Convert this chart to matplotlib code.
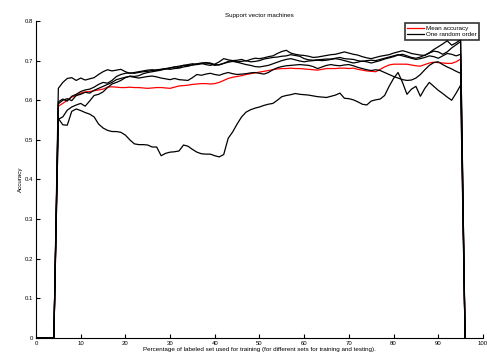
import numpy as np
import matplotlib
matplotlib.use("Agg")
import matplotlib.pyplot as plt

# Percentage of the labeled set used for training (evaluated points)
pct = list(range(5, 96))
# Points before/after the evaluated range where accuracy is recorded as 0
pct_lead = [0, 1, 2, 3, 4]
pct_tail = [96]

mean_acc = [
    0.585, 0.592, 0.600, 0.608, 0.612, 0.618, 0.621, 0.622, 0.624, 0.626,
    0.628, 0.633, 0.634, 0.633, 0.632, 0.632, 0.633, 0.632, 0.632, 0.631,
    0.630, 0.631, 0.632, 0.632, 0.631, 0.630, 0.633, 0.636, 0.637, 0.638,
    0.640, 0.641, 0.642, 0.642, 0.641, 0.642, 0.645, 0.650, 0.655, 0.658,
    0.660, 0.662, 0.665, 0.667, 0.669, 0.671, 0.673, 0.675, 0.677, 0.679,
    0.680, 0.680, 0.681, 0.680, 0.680, 0.679, 0.678, 0.677, 0.676, 0.678,
    0.680, 0.680, 0.680, 0.681, 0.681, 0.680, 0.681, 0.678, 0.676, 0.674,
    0.673, 0.672, 0.678, 0.684, 0.689, 0.691, 0.691, 0.691, 0.691, 0.689,
    0.687, 0.686, 0.690, 0.694, 0.696, 0.695, 0.694, 0.693, 0.693, 0.697,
    0.704,
]

order_a = [
    0.630, 0.645, 0.655, 0.657, 0.650, 0.656, 0.651, 0.654, 0.657, 0.665,
    0.672, 0.677, 0.674, 0.676, 0.678, 0.672, 0.668, 0.670, 0.672, 0.674,
    0.676, 0.677, 0.675, 0.678, 0.680, 0.681, 0.684, 0.683, 0.688, 0.690,
    0.692, 0.691, 0.693, 0.690, 0.688, 0.691, 0.697, 0.705, 0.702, 0.700,
    0.701, 0.703, 0.699, 0.703, 0.706, 0.705, 0.707, 0.710, 0.712, 0.718,
    0.723, 0.726, 0.719, 0.716, 0.714, 0.713, 0.711, 0.708, 0.709, 0.711,
    0.713, 0.715, 0.716, 0.719, 0.722, 0.719, 0.716, 0.714, 0.710, 0.707,
    0.705, 0.708, 0.711, 0.713, 0.715, 0.719, 0.722, 0.725, 0.722, 0.718,
    0.716, 0.714, 0.713, 0.720, 0.728, 0.735, 0.742, 0.750, 0.739, 0.745,
    0.753,
]

order_b = [
    0.596, 0.603, 0.598, 0.610, 0.615, 0.622, 0.626, 0.628, 0.633, 0.640,
    0.645, 0.643, 0.650, 0.660, 0.665, 0.668, 0.669, 0.668, 0.670, 0.672,
    0.673, 0.675, 0.677, 0.678, 0.679, 0.678, 0.680, 0.681, 0.684, 0.686,
    0.689, 0.690, 0.692, 0.694, 0.692, 0.688, 0.690, 0.693, 0.698, 0.700,
    0.697, 0.698, 0.700, 0.697, 0.698, 0.700, 0.704, 0.706, 0.708, 0.709,
    0.711, 0.712, 0.715, 0.713, 0.711, 0.705, 0.702, 0.701, 0.702, 0.703,
    0.704, 0.704, 0.706, 0.708, 0.705, 0.704, 0.703, 0.700, 0.698, 0.700,
    0.701, 0.700, 0.703, 0.706, 0.709, 0.712, 0.715, 0.712, 0.709, 0.706,
    0.703, 0.705, 0.708, 0.712, 0.710, 0.706, 0.712, 0.718, 0.716, 0.712,
    0.716,
]

order_c = [
    0.552, 0.558, 0.575, 0.583, 0.588, 0.592, 0.585, 0.598, 0.612, 0.615,
    0.621, 0.632, 0.641, 0.645, 0.650, 0.657, 0.661, 0.660, 0.662, 0.667,
    0.670, 0.672, 0.674, 0.676, 0.679, 0.682, 0.684, 0.686, 0.688, 0.687,
    0.689, 0.692, 0.694, 0.695, 0.694, 0.690, 0.689, 0.693, 0.696, 0.698,
    0.696, 0.693, 0.690, 0.688, 0.685, 0.684, 0.686, 0.688, 0.692, 0.696,
    0.700, 0.703, 0.705, 0.702, 0.699, 0.697, 0.699, 0.700, 0.701, 0.700,
    0.701, 0.703, 0.705, 0.703, 0.700, 0.697, 0.694, 0.696, 0.699, 0.697,
    0.694, 0.697, 0.700, 0.704, 0.707, 0.710, 0.714, 0.716, 0.712, 0.708,
    0.706, 0.709, 0.714, 0.719, 0.724, 0.722, 0.716, 0.722, 0.732, 0.740,
    0.748,
]

order_d = [
    0.591, 0.600, 0.604, 0.599, 0.612, 0.615, 0.620, 0.618, 0.625, 0.630,
    0.635, 0.640, 0.645, 0.652, 0.655, 0.658, 0.660, 0.658, 0.656, 0.658,
    0.660, 0.661, 0.659, 0.656, 0.654, 0.652, 0.655, 0.652, 0.651, 0.650,
    0.657, 0.665, 0.663, 0.666, 0.668, 0.665, 0.663, 0.667, 0.670, 0.667,
    0.665, 0.666, 0.667, 0.669, 0.670, 0.668, 0.666, 0.670, 0.677, 0.682,
    0.685, 0.687, 0.688, 0.689, 0.690, 0.689, 0.688, 0.685, 0.680, 0.684,
    0.688, 0.690, 0.688, 0.687, 0.689, 0.690, 0.687, 0.683, 0.680, 0.677,
    0.675, 0.677, 0.675, 0.670, 0.665, 0.660, 0.656, 0.652, 0.650, 0.651,
    0.656, 0.665, 0.677, 0.688, 0.695, 0.697, 0.690, 0.684, 0.679, 0.673,
    0.668,
]

order_e = [
    0.554, 0.538, 0.537, 0.572, 0.578, 0.574, 0.569, 0.565, 0.558, 0.540,
    0.530, 0.524, 0.521, 0.521, 0.519, 0.512, 0.500, 0.490, 0.488, 0.488,
    0.487, 0.482, 0.482, 0.460, 0.466, 0.469, 0.470, 0.472, 0.487, 0.484,
    0.476, 0.469, 0.465, 0.464, 0.464, 0.460, 0.457, 0.463, 0.504, 0.520,
    0.540, 0.558, 0.570, 0.576, 0.580, 0.583, 0.587, 0.590, 0.592, 0.600,
    0.609, 0.612, 0.614, 0.617, 0.615, 0.614, 0.613, 0.611, 0.609, 0.608,
    0.607, 0.610, 0.613, 0.618, 0.605, 0.604, 0.601, 0.596, 0.590, 0.588,
    0.598, 0.601, 0.603, 0.612, 0.635, 0.655, 0.670, 0.645, 0.615, 0.628,
    0.635, 0.610, 0.630, 0.645, 0.635, 0.625, 0.617, 0.608, 0.600, 0.618,
    0.638,
]

random_orders = [order_a, order_b, order_c, order_d, order_e]

x_ticks = list(range(0, 101, 10))
y_ticks = [0, 0.1, 0.2, 0.3, 0.4, 0.5, 0.6, 0.7, 0.8]
y_tick_labels = ["0", "0.1", "0.2", "0.3", "0.4", "0.5", "0.6", "0.7", "0.8"]


def padded(values):
    xs = pct_lead + pct + pct_tail
    ys = [0.0] * len(pct_lead) + list(values) + [0.0] * len(pct_tail)
    return xs, ys


plt.rcParams["font.family"] = ["Liberation Sans", "DejaVu Sans"]

fig = plt.figure(figsize=(4.87, 3.54), dpi=100)
ax = fig.add_axes([0.0739, 0.0452, 0.9178, 0.8955])

xs, ys = padded(mean_acc)
ax.plot(xs, ys, color="red", lw=0.9, label="Mean accuracy")
for i, series in enumerate(random_orders):
    xs, ys = padded(series)
    ax.plot(xs, ys, color="black", lw=0.9,
            label="One random order" if i == 0 else None)

ax.set_xlim(0, 100)
ax.set_ylim(0, 0.8)
ax.set_xticks(x_ticks)
ax.set_xticklabels([str(t) for t in x_ticks])
ax.set_yticks(y_ticks)
ax.set_yticklabels(y_tick_labels)
ax.tick_params(direction="in", length=3, width=0.8, labelsize=4.3, pad=2,
               colors="black")
for side in ("top", "right"):
    ax.spines[side].set_visible(False)
for side in ("left", "bottom"):
    ax.spines[side].set_linewidth(0.8)

ax.set_title("Support vector machines", fontsize=4.5, pad=3)
ax.set_xlabel("Percentage of labeled set used for training "
              "(for different sets for training and testing).",
              fontsize=4.5, labelpad=1)
ax.set_ylabel("Accuracy", fontsize=4.5, labelpad=1)

leg = ax.legend(loc="upper right", bbox_to_anchor=(0.991, 0.993),
                fontsize=4.5, frameon=True, fancybox=False,
                handlelength=2.6, handletextpad=0.4, borderpad=0.35,
                labelspacing=0.2, borderaxespad=0)
leg.get_frame().set_edgecolor("black")
leg.get_frame().set_linewidth(1.2)

fig.savefig("out.png", dpi=100)
